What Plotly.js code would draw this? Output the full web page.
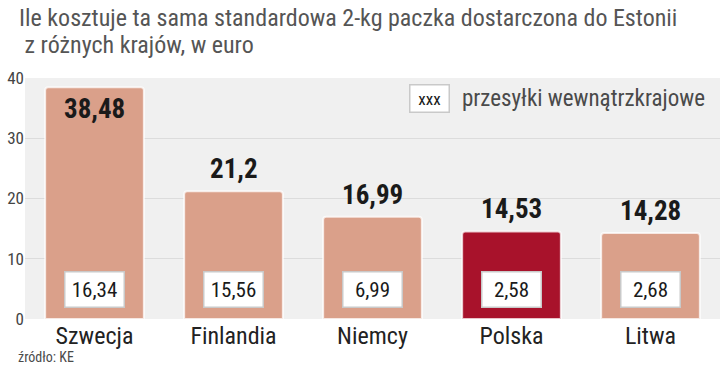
<!DOCTYPE html>
<html><head><meta charset="utf-8">
<script src="https://cdn.plot.ly/plotly-3.0.1.min.js"></script>
<style>body{margin:0;background:#fff}#c{width:720px;height:371px}</style>
</head><body><div id="c"></div>
<script>
const categories = ['Szwecja','Finlandia','Niemcy','Polska','Litwa'];
const totalCost = [38.48, 21.2, 16.99, 14.53, 14.28];
const totalLabels = ['38,48','21,2','16,99','14,53','14,28'];
const domesticLabels = ['16,34','15,56','6,99','2,58','2,68'];
const barColors = ['#DAA08A','#DAA08A','#DAA08A','#A8122B','#DAA08A'];

const NARROW = '"Liberation Sans Narrow", "Roboto Condensed", Roboto, sans-serif';
const YMAX = 40;

const annotations = [];
categories.forEach((c, i) => {
  const inside = totalCost[i] > YMAX - 5;
  annotations.push({
    x: c, y: totalCost[i], xref: 'x', yref: 'y',
    text: '<b>' + totalLabels[i] + '</b>', showarrow: false,
    yanchor: inside ? 'top' : 'bottom', yshift: inside ? -4 : 4,
    font: {family: NARROW, size: 27, color: '#1a1a1a'}
  });
  annotations.push({
    x: c, y: 0, xref: 'x', yref: 'y', yanchor: 'bottom', yshift: 11,
    text: domesticLabels[i], showarrow: false,
    width: 52, height: 28, borderpad: 3,
    bgcolor: '#ffffff', bordercolor: '#c9c9c9', borderwidth: 1.5,
    font: {family: NARROW, size: 21, color: '#1a1a1a'}
  });
});
// title (two lines)
annotations.push({
  xref: 'paper', yref: 'paper', x: -0.011, y: 1.249, xanchor: 'left', yanchor: 'middle',
  align: 'left', showarrow: false,
  text: 'Ile kosztuje ta sama standardowa 2-kg paczka dostarczona do Estonii',
  font: {family: NARROW, size: 24, color: '#555555'}
});
annotations.push({
  xref: 'paper', yref: 'paper', x: -0.011, y: 1.137, xanchor: 'left', yanchor: 'middle',
  align: 'left', showarrow: false,
  text: ' z różnych krajów, w euro',
  font: {family: NARROW, size: 24, color: '#555555'}
});
// legend
annotations.push({
  xref: 'paper', yref: 'paper', x: 0.553, y: 0.915, xanchor: 'left', yanchor: 'middle',
  text: 'xxx', showarrow: false, bgcolor: '#ffffff', bordercolor: '#c9c9c9', borderwidth: 1.5,
  borderpad: 3, width: 32, font: {family: NARROW, size: 17, color: '#1a1a1a'}
});
annotations.push({
  xref: 'paper', yref: 'paper', x: 0.626, y: 0.915, xanchor: 'left', yanchor: 'middle',
  text: 'przesyłki wewnątrzkrajowe', showarrow: false,
  font: {family: NARROW, size: 23, color: '#4a4a4a'}
});
// source
annotations.push({
  xref: 'paper', yref: 'paper', x: -0.013, y: -0.158, xanchor: 'left', yanchor: 'middle',
  text: 'źródło: KE', showarrow: false,
  font: {family: NARROW, size: 14, color: '#4a4a4a'}
});

const trace = {
  type: 'bar', x: categories, y: totalCost,
  marker: {color: barColors, line: {color: 'rgba(255,255,255,0.75)', width: 2}, cornerradius: 3},
  width: 0.71, hoverinfo: 'skip'
};

const layout = {
  width: 720, height: 371,
  margin: {l: 25, r: 0, t: 78, b: 52},
  paper_bgcolor: '#ffffff', plot_bgcolor: '#f0f0f0',
  showlegend: false,
  xaxis: {
    type: 'category', range: [-0.5, 4.5], showgrid: false, zeroline: false, showline: false,
    ticks: '', tickfont: {family: NARROW, size: 24, color: '#222'}
  },
  yaxis: {
    range: [0, YMAX], dtick: 10, showgrid: true, gridcolor: '#dcdcdc', gridwidth: 1,
    zeroline: false, showline: false, ticks: '',
    tickfont: {family: NARROW, size: 17, color: '#444'}
  },
  annotations: annotations
};
Plotly.newPlot('c', [trace], layout, {displayModeBar: false, staticPlot: true});
</script></body></html>
